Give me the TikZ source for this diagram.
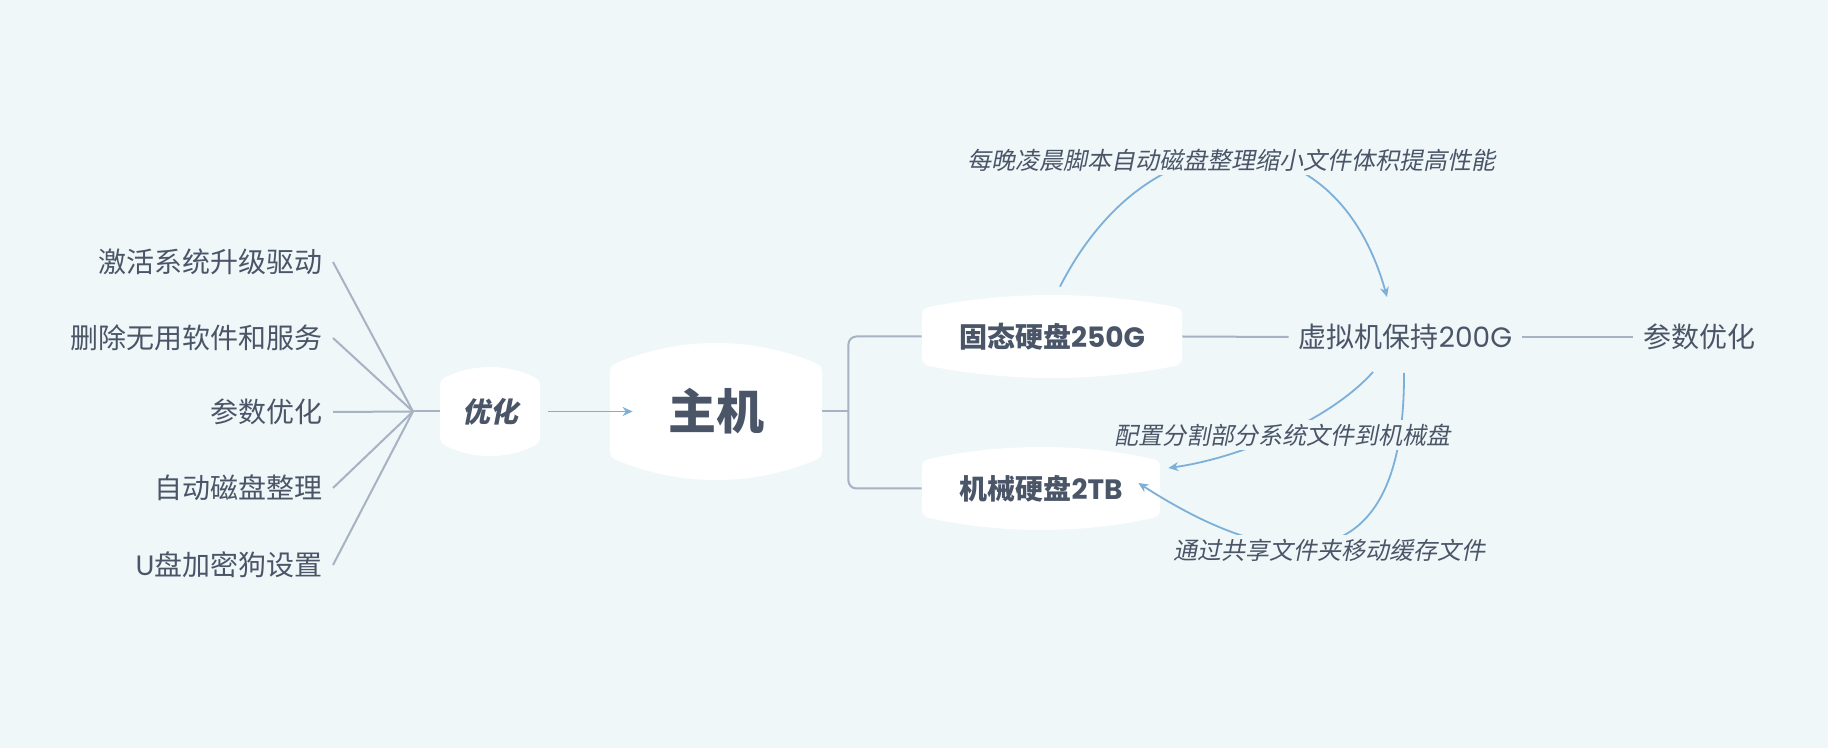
\documentclass[tikz,border=0pt]{standalone}
\usepackage{fontspec}
\setmainfont{Noto Sans CJK SC}
\newfontfamily\cjkit{Noto Sans CJK SC}[FakeSlant=0.2]
\newfontfamily\lat{Poppins}
\usetikzlibrary{arrows.meta,calc}
\definecolor{bgc}{HTML}{EFF7F9}
\definecolor{ink}{HTML}{4A5568}
\definecolor{linec}{HTML}{A7B2C3}
\definecolor{arrowc}{HTML}{7DB0D8}
\tikzset{
  topic/.style={inner sep=0pt, path picture={
    \coordinate (tl) at (path picture bounding box.north west);
    \coordinate (tr) at (path picture bounding box.north east);
    \coordinate (bl) at (path picture bounding box.south west);
    \coordinate (br) at (path picture bounding box.south east);
    \fill[white, draw=white, line width=8pt, line join=round]
      ([xshift=4pt,yshift=-4pt-#1]tl)
      .. controls ($(tl)!1/3!(tr)+(0pt,{#1/3-4pt})$) and ($(tl)!2/3!(tr)+(0pt,{#1/3-4pt})$) ..
      ([xshift=-4pt,yshift=-4pt-#1]tr) -- ([xshift=-4pt,yshift=4pt+#1]br)
      .. controls ($(bl)!2/3!(br)+(0pt,{4pt-#1/3})$) and ($(bl)!1/3!(br)+(0pt,{4pt-#1/3})$) ..
      ([xshift=4pt,yshift=4pt+#1]bl) -- cycle;
  }},
  leaf/.style={font=\fontsize{14}{17}\selectfont, inner xsep=5pt, inner ysep=1pt},
  rellabel/.style={font=\cjkit\fontsize{12}{14}\selectfont, fill=bgc, inner sep=2pt},
  branch/.style={draw=linec, line width=1pt},
  rel/.style={draw=arrowc, line width=0.9pt, -{Stealth[length=5pt,width=4.5pt]}},
}

\begin{document}
\begin{tikzpicture}[x=0.5pt, y=-0.5pt, every node/.style={text=ink}]
\fill[bgc] (0,0) rectangle (1828,748);

\node[topic=10pt, minimum width=106pt, minimum height=68.5pt, font=\bfseries\fontsize{24}{28}\selectfont] (host) at (716,411.5) {主机};
\node[topic=5pt, minimum width=50pt, minimum height=44.5pt, font=\cjkit\bfseries\fontsize{14}{17}\selectfont] (opt) at (490,411.5) {优化};
\node[topic=6pt, minimum width=130pt, minimum height=41.5pt, font=\bfseries\fontsize{14}{17}\selectfont] (ssd) at (1052,336.5) {固态硬盘{\lat\bfseries 250G}};
\node[topic=6pt, minimum width=119pt, minimum height=41.5pt, font=\bfseries\fontsize{14}{17}\selectfont] (hdd) at (1041,488.5) {机械硬盘{\lat\bfseries 2TB}};

\node[leaf, anchor=east] (act) at (333,262) {激活系统升级驱动};
\node[leaf, anchor=east] (del) at (333,338) {删除无用软件和服务};
\node[leaf, anchor=east] (par) at (333,412) {参数优化};
\node[leaf, anchor=east] (disk) at (333,488) {自动磁盘整理};
\node[leaf, anchor=east] (usb) at (333,565) {{\lat U}盘加密狗设置};
\coordinate (hub) at (413,411.5);
\foreach \n in {act,del,par,disk,usb}
  \draw[branch] (\n.east) -- (hub);
\draw[branch] (hub) -- (opt.west);
\draw[rel] ([xshift=4pt]opt.east) -- ([xshift=11.5pt]host.west);

\draw[branch] (host.east) -- ++(26,0) coordinate (fork);
\draw[branch, rounded corners=4pt] (ssd.west) -| (fork) |- (hdd.west);

\node[leaf] (vm) at (1405.5,337) {虚拟机保持{\lat 200G}};
\node[leaf] (vmpar) at (1699.5,337) {参数优化};
\draw[branch] (ssd.east) -- (vm.west);
\draw[branch] (vm.east) -- (vmpar.west);

\draw[rel] ($(ssd.north)+(8,-8)$) .. controls (1150,110) and (1335,110) .. ($(vm.center)+(-18.5,-40)$);
\draw[rel] ($(vm.center)+(-32.5,35)$) .. controls (1330,420) and (1240,458) .. ($(hdd.east)+(8,-20.5)$);
\draw[rel] ($(vm.center)+(-1.5,36)$) .. controls (1405,600) and (1264,564) .. ($(hdd.east)+(-22,-5.5)$);
\node[rellabel] (nightly) at (1231,160) {每晚凌晨脚本自动磁盘整理缩小文件体积提高性能};
\node[rellabel] (split) at (1282,435) {配置分割部分系统文件到机械盘};
\node[rellabel] (share) at (1329,550) {通过共享文件夹移动缓存文件};
\end{tikzpicture}
\end{document}
